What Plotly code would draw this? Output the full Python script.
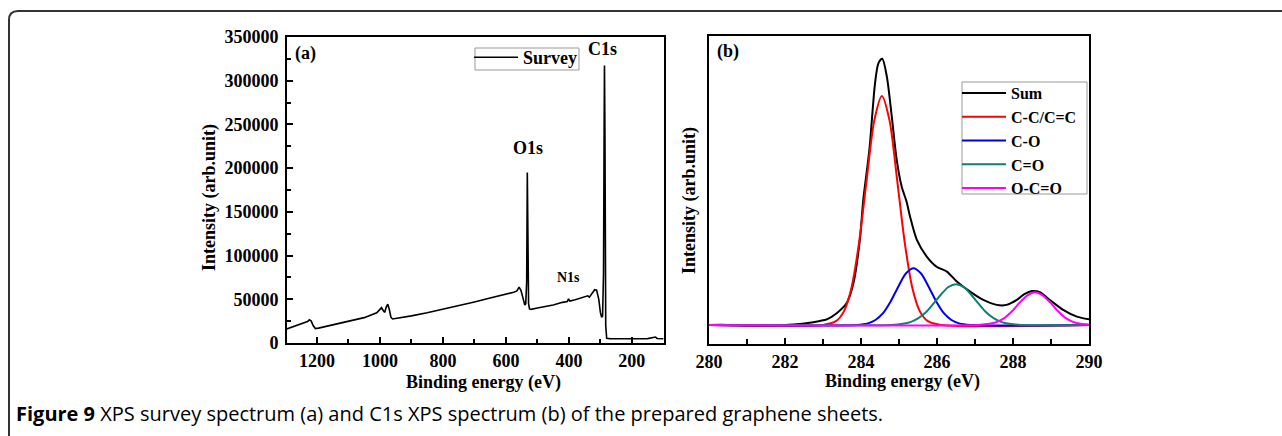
import plotly.graph_objects as go

W, H = 1282, 436

# ---------------- (a) survey spectrum ----------------
survey_be = [1300, 1280, 1260, 1240, 1230, 1224, 1218, 1212, 1205, 1195, 1150, 1100, 1050, 1010,
             1000, 995, 990, 985, 980, 975, 970, 965, 960, 950, 900, 850, 800, 750, 700, 650,
             600, 575, 565, 558, 552, 545, 540, 537, 534, 532, 530, 528, 525, 520, 500, 450,
             420, 405, 401, 397, 380, 350, 340, 335, 325, 318, 312, 305, 300, 296, 293, 290,
             288, 287, 285.5, 284.5, 283, 280, 270, 250, 200, 174, 150, 125, 120, 100]
survey_int = [15500, 18000, 20000, 22500, 24500, 26500, 25000, 20000, 16500, 17000, 20500, 24500,
              29000, 34500, 38500, 40500, 37500, 35000, 41000, 44500, 38000, 29500, 27500, 28000,
              31000, 34500, 38500, 42500, 47000, 51500, 55500, 58000, 59500, 64000, 60000, 49000,
              43500, 45000, 70000, 195000, 120000, 45000, 39000, 38500, 40000, 43500, 46500, 47500,
              50500, 48000, 49500, 53000, 54000, 52500, 57000, 61000, 60500, 50000, 35000, 29500,
              31000, 80000, 250000, 317500, 240000, 100000, 20000, 5500, 5000, 4900, 4700, 4600,
              5000, 6800, 5200, 4800]
survey_xticks = [1200, 1000, 800, 600, 400, 200]
survey_yticks = [0, 50000, 100000, 150000, 200000, 250000, 300000, 350000]

# ---------------- (b) C1s spectrum ----------------
sum_be = [280, 280.5, 281, 281.5, 282, 282.3, 282.6, 282.92, 283.1, 283.36, 283.62, 283.8, 283.97,
          284.06, 284.22, 284.37, 284.46, 284.56, 284.68, 284.81, 284.94, 285.07, 285.2, 285.29,
          285.47, 285.73, 285.99, 286.26, 286.52, 286.87, 287.22, 287.57, 287.83, 288.1, 288.3,
          288.5, 288.71, 288.97, 289.32, 289.68, 290]
sum_int = [0, 0, -0.3, -0.3, 0, 0.2, 0.6, 1.3, 1.8, 3.8, 7.0, 13.5, 27.6, 40.6, 56.8, 78.5, 85.0,
           86.4, 80.6, 67.6, 53.6, 44.9, 40.0, 35.2, 27.6, 22.2, 18.9, 17.3, 14.1, 10.8, 8.1, 6.5,
           6.5, 8.1, 10.0, 11.0, 10.6, 8.1, 4.9, 2.7, 1.8]

cc_be = [280, 283.0, 283.35, 283.55, 283.75, 283.95, 284.15, 284.35, 284.55, 284.75, 284.95,
         285.15, 285.35, 285.55, 285.75, 286.1, 290]
cc_int = [0, 0, 1.3, 4.4, 12.1, 26.8, 47.2, 66.4, 74.3, 66.4, 47.2, 26.8, 12.1, 4.4, 1.3, 0, 0]

co_be = [280, 283.88, 284.18, 284.38, 284.58, 284.78, 284.98, 285.18, 285.38, 285.58, 285.78,
         285.98, 286.18, 286.38, 286.58, 286.88, 290]
co_int = [0, 0, 0.5, 1.6, 3.8, 7.6, 12.4, 16.7, 18.4, 16.7, 12.4, 7.6, 3.8, 1.6, 0.5, 0, 0]

cdo_be = [280, 284.8, 285.1, 285.3, 285.5, 285.7, 285.9, 286.1, 286.3, 286.5, 286.7, 286.9, 287.1,
          287.3, 287.5, 287.7, 287.9, 288.2, 290]
cdo_int = [0, 0, 0.35, 0.9, 2.1, 4.0, 6.8, 9.8, 12.3, 13.2, 12.3, 9.8, 6.8, 4.0, 2.1, 0.9, 0.35, 0, 0]

occ_be = [280, 287.08, 287.38, 287.58, 287.78, 287.98, 288.18, 288.38, 288.58, 288.78, 288.98,
          289.18, 289.38, 289.58, 289.78, 290]
occ_int = [0, 0, 0.35, 1.0, 2.3, 4.5, 7.3, 9.6, 10.6, 9.6, 7.3, 4.5, 2.3, 1.0, 0.35, 0.1]

c1s_xticks = [280, 282, 284, 286, 288, 290]

SERIF = "Liberation Serif, Times New Roman, serif"


def px(x):
    return x / W


def py(y):
    return 1 - y / H


fig = go.Figure()

fig.add_trace(go.Scatter(x=survey_be, y=survey_int, mode="lines", name="Survey",
                         line=dict(color="black", width=1.6), xaxis="x", yaxis="y",
                         legend="legend"))

series_b = [
    ("Sum", sum_be, sum_int, "black"),
    ("C-C/C=C", cc_be, cc_int, "#ff0000"),
    ("C-O", co_be, co_int, "#0000ee"),
    ("C=O", cdo_be, cdo_int, "#0f7f70"),
    ("O-C=O", occ_be, occ_int, "#ff00ff"),
]
for name, xs, ys, col in series_b:
    fig.add_trace(go.Scatter(x=xs, y=ys, mode="lines", name=name,
                             line=dict(color=col, width=2, shape="spline", smoothing=0.8),
                             xaxis="x2", yaxis="y2", legend="legend2"))

axis_common = dict(showline=True, linecolor="black", linewidth=2, mirror=True,
                   showgrid=False, zeroline=False, tickcolor="black",
                   ticklen=6, tickwidth=1.5, automargin=False,
                   tickfont=dict(family=SERIF, size=18, color="black", weight="bold"))

fig.update_layout(
    width=W, height=H,
    margin=dict(l=0, r=0, t=0, b=0),
    paper_bgcolor="white", plot_bgcolor="white",
    template="none",
    xaxis=dict(domain=[px(287), px(664)], range=[1295, 98], anchor="y", ticks="inside",
               tickvals=survey_xticks, ticklabelstandoff=0,
               minor=dict(ticks="inside", dtick=100, ticklen=4, tickcolor="black", tickwidth=1.5),
               **axis_common),
    yaxis=dict(domain=[py(343), py(37)], range=[0, 350000], anchor="x", ticks="inside",
               tickvals=survey_yticks, tickformat="d", ticklabelstandoff=3,
               minor=dict(ticks="inside", dtick=25000, ticklen=4, tickcolor="black", tickwidth=1.5),
               **axis_common),
    xaxis2=dict(domain=[px(709), px(1089)], range=[280, 290], anchor="y2", ticks="inside",
                tickvals=c1s_xticks, ticklabelstandoff=0,
                minor=dict(ticks="inside", dtick=1, ticklen=5, tickcolor="black", tickwidth=1.5),
                **axis_common),
    yaxis2=dict(domain=[py(344), py(36)], range=[-6.2, 93.8], anchor="x2", ticks="",
                showticklabels=False, **axis_common),
    legend=dict(x=px(469), y=py(39), xanchor="left", yanchor="top",
                bgcolor="rgba(0,0,0,0)", borderwidth=0,
                font=dict(family=SERIF, size=18, color="black", weight="bold"),
                itemwidth=44, tracegroupgap=0),
    legend2=dict(x=px(957), y=py(76), xanchor="left", yanchor="top",
                 bgcolor="rgba(0,0,0,0)", borderwidth=0,
                 font=dict(family=SERIF, size=16, color="black", weight="bold"),
                 itemwidth=44, tracegroupgap=0),
    showlegend=True,
)

ann = []


def add_text(text, x, y, size=18, angle=0, family=SERIF, weight="bold", xanchor="center"):
    ann.append(dict(text=text, x=px(x), y=py(y), xref="paper", yref="paper",
                    xanchor=xanchor, yanchor="middle", showarrow=False, textangle=angle,
                    font=dict(family=family, size=size, color="black", weight=weight)))


add_text("(a)", 305, 53)
add_text("(b)", 728, 52)
add_text("C1s", 602, 49)
add_text("O1s", 528, 148)
add_text("N1s", 568, 277, size=14)
add_text("Intensity (arb.unit)", 209, 197, angle=-90)
add_text("Intensity (arb.unit)", 689, 200, angle=-90)
add_text("Binding energy (eV)", 483, 382)
add_text("Binding energy (eV)", 902, 381)
add_text("<b>Figure 9</b> XPS survey spectrum (a) and C1s XPS spectrum (b) of the prepared graphene sheets.",
         14, 413, size=20, family="Open Sans, Noto Sans, sans-serif", weight="normal", xanchor="left")
fig.update_layout(annotations=ann)

# legend frames
fig.add_shape(type="rect", xref="paper", yref="paper",
              x0=px(475), x1=px(579), y0=py(70), y1=py(48),
              line=dict(color="#999999", width=1), fillcolor="rgba(0,0,0,0)")
fig.add_shape(type="rect", xref="paper", yref="paper",
              x0=px(962), x1=px(1087), y0=py(194), y1=py(82),
              line=dict(color="#999999", width=1), fillcolor="rgba(0,0,0,0)")

# outer rounded frame
x0, y0, r = 9, 11, 9
path = (f"M {px(x0)} {py(460)} L {px(x0)} {py(y0 + r)} "
        f"Q {px(x0)} {py(y0)} {px(x0 + r)} {py(y0)} L {px(1300)} {py(y0)}")
fig.add_shape(type="path", path=path, xref="paper", yref="paper",
              line=dict(color="#333333", width=2))

fig.write_html("out.html")
